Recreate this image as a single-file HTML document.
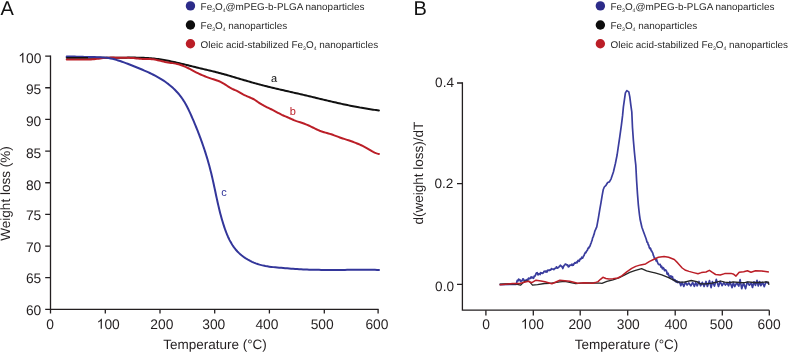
<!DOCTYPE html>
<html><head><meta charset="utf-8"><style>
html,body{margin:0;padding:0;background:#fff;}
body{width:789px;height:353px;overflow:hidden;}
svg{display:block;will-change:transform;text-rendering:geometricPrecision;font-family:"Liberation Sans",sans-serif;}
.tk{font-size:13.8px;fill:#231f20;}
.tkb{font-size:13.6px;fill:#231f20;}
.lab{font-size:13.5px;fill:#231f20;}
.big{font-size:20px;fill:#111;}
.lg{font-size:9.8px;fill:#2a2a2a;}
.sb{font-size:5px;}
.cl{font-size:11px;}
</style></head><body>
<svg width="789" height="353" viewBox="0 0 789 353">
<path d="M50.5,55.5 V309.3 H378.6" fill="none" stroke="#231f20" stroke-width="1.3"/>
<path d="M45.2,56.10 H50.5 M45.2,87.76 H50.5 M45.2,119.42 H50.5 M45.2,151.08 H50.5 M45.2,182.74 H50.5 M45.2,214.40 H50.5 M45.2,246.06 H50.5 M45.2,277.72 H50.5 M45.2,309.38 H50.5 M105.30,309.3 V313.6 M160.00,309.3 V313.6 M214.70,309.3 V313.6 M269.40,309.3 V313.6 M324.30,309.3 V313.6 M378.10,309.3 V313.6 M50.5,309.3 V313.6" fill="none" stroke="#231f20" stroke-width="1.3"/>
<path transform="translate(18.275,62.600) scale(0.006738,-0.006738)" d="M763,0 L583,0 L583,1147 Q518,1085 465,1054 Q412,1023 359,992 Q306,961 222,930 L222,1104 Q373,1175 429.5,1225.5 Q486,1276 542.5,1326.5 Q599,1377 646,1472 L763,1472 Z" fill="#231f20"/><text x="25.950" y="62.60" class="tk">0</text><text x="33.625" y="62.60" class="tk">0</text>
<text x="41.30" y="94.26" text-anchor="end" class="tk">95</text>
<text x="41.30" y="125.77" text-anchor="end" class="tk">90</text>
<text x="41.30" y="157.58" text-anchor="end" class="tk">85</text>
<text x="41.30" y="189.54" text-anchor="end" class="tk">80</text>
<text x="41.30" y="220.10" text-anchor="end" class="tk">75</text>
<text x="41.30" y="251.56" text-anchor="end" class="tk">70</text>
<text x="41.30" y="283.12" text-anchor="end" class="tk">65</text>
<text x="41.30" y="314.93" text-anchor="end" class="tk">60</text>
<text x="50.20" y="328.70" text-anchor="middle" class="tk">0</text>
<path transform="translate(96.738,328.700) scale(0.006738,-0.006738)" d="M763,0 L583,0 L583,1147 Q518,1085 465,1054 Q412,1023 359,992 Q306,961 222,930 L222,1104 Q373,1175 429.5,1225.5 Q486,1276 542.5,1326.5 Q599,1377 646,1472 L763,1472 Z" fill="#231f20"/><text x="104.413" y="328.70" class="tk">0</text><text x="112.087" y="328.70" class="tk">0</text>
<text x="161.85" y="328.70" text-anchor="middle" class="tk">200</text>
<text x="213.75" y="328.70" text-anchor="middle" class="tk">300</text>
<text x="266.90" y="328.70" text-anchor="middle" class="tk">400</text>
<text x="322.20" y="328.70" text-anchor="middle" class="tk">500</text>
<text x="376.95" y="328.70" text-anchor="middle" class="tk">600</text>
<text x="215" y="348.6" text-anchor="middle" class="lab">Temperature (°C)</text>
<text transform="translate(10,193.5) rotate(-90)" text-anchor="middle" class="lab">Weight loss (%)</text>
<text x="0.5" y="14.6" class="big">A</text>
<path d="M462.4,82.35 V310.2 H769.3" fill="none" stroke="#231f20" stroke-width="1.3"/>
<path d="M457.0,284.35 H462.4 M457.0,183.60 H462.4 M457.0,83.00 H462.4 M485.90,310.2 V315.5 M533.30,310.2 V315.5 M580.20,310.2 V315.5 M627.70,310.2 V315.5 M675.20,310.2 V315.5 M722.30,310.2 V315.5 M769.30,310.2 V315.5" fill="none" stroke="#231f20" stroke-width="1.3"/>
<text x="454.0" y="291.10" text-anchor="end" class="tkb">0.0</text>
<text x="453.3" y="187.90" text-anchor="end" class="tkb">0.2</text>
<text x="454.0" y="86.90" text-anchor="end" class="tkb">0.4</text>
<text x="486.00" y="328.70" text-anchor="middle" class="tk">0</text>
<path transform="translate(520.838,328.700) scale(0.006738,-0.006738)" d="M763,0 L583,0 L583,1147 Q518,1085 465,1054 Q412,1023 359,992 Q306,961 222,930 L222,1104 Q373,1175 429.5,1225.5 Q486,1276 542.5,1326.5 Q599,1377 646,1472 L763,1472 Z" fill="#231f20"/><text x="528.513" y="328.70" class="tk">0</text><text x="536.187" y="328.70" class="tk">0</text>
<text x="579.95" y="328.70" text-anchor="middle" class="tk">200</text>
<text x="628.25" y="328.70" text-anchor="middle" class="tk">300</text>
<text x="675.90" y="328.70" text-anchor="middle" class="tk">400</text>
<text x="721.35" y="328.70" text-anchor="middle" class="tk">500</text>
<text x="769.05" y="328.70" text-anchor="middle" class="tk">600</text>
<text x="626.5" y="348.6" text-anchor="middle" class="lab">Temperature (°C)</text>
<text transform="translate(422.8,173.2) rotate(-90)" text-anchor="middle" class="lab">d(weight loss)/dT</text>
<text x="413.6" y="14.6" class="big">B</text>
<path d="M66.70,57.70 L68.15,57.70 L69.61,57.69 L71.06,57.69 L72.52,57.69 L73.97,57.68 L75.43,57.69 L76.88,57.69 L78.33,57.69 L79.79,57.70 L81.24,57.70 L82.70,57.71 L84.15,57.72 L85.60,57.73 L87.06,57.74 L88.51,57.74 L89.96,57.75 L91.41,57.76 L92.87,57.77 L94.32,57.78 L95.77,57.78 L97.23,57.79 L98.68,57.80 L100.13,57.80 L101.59,57.81 L103.04,57.81 L104.50,57.81 L105.95,57.81 L107.40,57.81 L108.86,57.81 L110.31,57.80 L111.77,57.79 L113.22,57.78 L114.68,57.77 L116.14,57.76 L117.59,57.74 L119.05,57.72 L120.51,57.70 L121.96,57.68 L123.42,57.67 L124.88,57.65 L126.34,57.63 L127.79,57.62 L129.25,57.61 L130.71,57.60 L132.16,57.60 L133.62,57.61 L135.07,57.62 L136.53,57.63 L137.98,57.66 L139.43,57.69 L140.89,57.73 L142.34,57.78 L143.79,57.83 L145.24,57.90 L146.68,57.98 L148.13,58.07 L149.58,58.18 L151.02,58.29 L152.46,58.42 L153.90,58.57 L155.34,58.73 L156.78,58.90 L158.22,59.09 L159.65,59.30 L161.09,59.51 L162.52,59.74 L163.95,59.99 L165.38,60.24 L166.80,60.51 L168.23,60.78 L169.66,61.07 L171.08,61.36 L172.50,61.66 L173.93,61.97 L175.35,62.29 L176.77,62.61 L178.19,62.94 L179.60,63.27 L181.02,63.61 L182.44,63.95 L183.85,64.29 L185.27,64.63 L186.68,64.98 L188.10,65.33 L189.51,65.67 L190.92,66.02 L192.34,66.37 L193.75,66.72 L195.16,67.06 L196.57,67.41 L197.98,67.75 L199.39,68.10 L200.81,68.44 L202.22,68.79 L203.63,69.13 L205.04,69.46 L206.46,69.80 L207.87,70.14 L209.28,70.48 L210.69,70.81 L212.10,71.15 L213.52,71.50 L214.93,71.84 L216.33,72.19 L217.74,72.55 L219.15,72.91 L220.55,73.28 L221.95,73.66 L223.36,74.04 L224.75,74.42 L226.15,74.82 L227.55,75.21 L228.95,75.62 L230.34,76.02 L231.73,76.43 L233.13,76.84 L234.52,77.26 L235.91,77.67 L237.31,78.09 L238.70,78.51 L240.09,78.92 L241.48,79.34 L242.87,79.75 L244.27,80.17 L245.66,80.58 L247.06,80.99 L248.45,81.40 L249.85,81.80 L251.24,82.20 L252.64,82.59 L254.04,82.98 L255.44,83.37 L256.84,83.75 L258.25,84.13 L259.65,84.50 L261.05,84.87 L262.46,85.24 L263.87,85.60 L265.28,85.96 L266.69,86.31 L268.10,86.66 L269.51,87.01 L270.92,87.35 L272.33,87.69 L273.74,88.03 L275.16,88.36 L276.57,88.70 L277.99,89.03 L279.40,89.36 L280.82,89.68 L282.24,90.01 L283.65,90.34 L285.07,90.66 L286.49,90.98 L287.90,91.31 L289.32,91.63 L290.74,91.95 L292.16,92.27 L293.57,92.60 L294.99,92.92 L296.41,93.24 L297.83,93.57 L299.24,93.90 L300.66,94.22 L302.08,94.55 L303.49,94.88 L304.91,95.22 L306.33,95.55 L307.74,95.89 L309.16,96.22 L310.57,96.56 L311.99,96.90 L313.40,97.24 L314.81,97.58 L316.23,97.92 L317.64,98.26 L319.06,98.60 L320.47,98.93 L321.89,99.27 L323.30,99.61 L324.71,99.95 L326.13,100.29 L327.54,100.62 L328.96,100.96 L330.37,101.29 L331.79,101.62 L333.21,101.95 L334.62,102.28 L336.04,102.60 L337.46,102.92 L338.87,103.24 L340.29,103.56 L341.71,103.87 L343.13,104.18 L344.55,104.49 L345.97,104.80 L347.39,105.10 L348.81,105.39 L350.24,105.69 L351.66,105.97 L353.08,106.26 L354.51,106.54 L355.94,106.81 L357.36,107.08 L358.79,107.35 L360.22,107.61 L361.65,107.86 L363.08,108.11 L364.51,108.35 L365.95,108.59 L367.38,108.82 L368.82,109.05 L370.25,109.26 L371.69,109.47 L373.13,109.68 L374.57,109.88 L376.01,110.07 L377.46,110.25 L378.90,110.42" fill="none" stroke="#111111" stroke-width="2" stroke-linejoin="round" stroke-linecap="round"/>
<path d="M66.70,59.50 L68.22,59.52 L69.74,59.52 L71.26,59.52 L72.78,59.50 L74.30,59.49 L75.82,59.48 L77.34,59.47 L78.86,59.48 L80.38,59.49 L81.91,59.51 L83.43,59.53 L84.95,59.54 L86.47,59.54 L87.99,59.52 L89.51,59.48 L91.03,59.41 L92.55,59.31 L94.06,59.18 L95.57,59.03 L97.08,58.86 L98.59,58.68 L100.10,58.47 L101.61,58.26 L103.12,58.06 L104.63,57.89 L106.14,57.76 L107.66,57.67 L109.18,57.63 L110.70,57.61 L112.22,57.61 L113.74,57.62 L115.26,57.64 L116.78,57.66 L118.30,57.69 L119.82,57.72 L121.34,57.75 L122.86,57.77 L124.39,57.79 L125.91,57.81 L127.43,57.83 L128.95,57.87 L130.47,57.92 L131.99,58.00 L133.50,58.10 L135.01,58.25 L136.52,58.41 L138.03,58.58 L139.54,58.73 L141.06,58.83 L142.58,58.89 L144.11,58.92 L145.63,58.93 L147.16,58.95 L148.68,58.99 L150.20,59.06 L151.70,59.18 L153.20,59.36 L154.69,59.60 L156.18,59.88 L157.66,60.20 L159.14,60.55 L160.61,60.90 L162.10,61.25 L163.58,61.59 L165.08,61.90 L166.58,62.17 L168.09,62.42 L169.60,62.66 L171.11,62.89 L172.62,63.12 L174.12,63.37 L175.62,63.64 L177.10,63.95 L178.57,64.31 L180.01,64.72 L181.44,65.19 L182.85,65.72 L184.25,66.30 L185.63,66.92 L187.00,67.58 L188.36,68.26 L189.72,68.97 L191.07,69.68 L192.42,70.41 L193.77,71.13 L195.13,71.83 L196.49,72.53 L197.86,73.20 L199.23,73.85 L200.61,74.48 L202.00,75.09 L203.40,75.69 L204.81,76.26 L206.22,76.81 L207.64,77.35 L209.07,77.86 L210.51,78.36 L211.95,78.83 L213.40,79.29 L214.86,79.74 L216.31,80.20 L217.74,80.69 L219.16,81.23 L220.54,81.84 L221.88,82.52 L223.19,83.27 L224.48,84.07 L225.76,84.90 L227.03,85.73 L228.31,86.56 L229.60,87.37 L230.91,88.13 L232.25,88.83 L233.63,89.47 L235.02,90.08 L236.41,90.69 L237.78,91.35 L239.11,92.07 L240.43,92.83 L241.74,93.60 L243.06,94.35 L244.41,95.04 L245.79,95.69 L247.18,96.30 L248.58,96.89 L249.98,97.49 L251.37,98.10 L252.74,98.76 L254.08,99.46 L255.38,100.24 L256.64,101.08 L257.89,101.95 L259.13,102.82 L260.40,103.67 L261.68,104.47 L263.00,105.22 L264.33,105.94 L265.69,106.62 L267.05,107.28 L268.42,107.94 L269.80,108.58 L271.17,109.23 L272.53,109.90 L273.89,110.58 L275.22,111.29 L276.55,112.02 L277.88,112.76 L279.21,113.48 L280.55,114.18 L281.91,114.85 L283.29,115.48 L284.68,116.09 L286.08,116.68 L287.48,117.28 L288.87,117.89 L290.26,118.51 L291.65,119.14 L293.04,119.75 L294.44,120.35 L295.85,120.91 L297.27,121.42 L298.71,121.89 L300.16,122.33 L301.61,122.78 L303.05,123.26 L304.48,123.77 L305.89,124.32 L307.29,124.91 L308.68,125.52 L310.06,126.16 L311.44,126.83 L312.81,127.50 L314.18,128.18 L315.55,128.84 L316.93,129.50 L318.32,130.12 L319.72,130.71 L321.13,131.25 L322.56,131.75 L324.01,132.20 L325.46,132.63 L326.92,133.04 L328.38,133.45 L329.84,133.88 L331.29,134.33 L332.73,134.81 L334.16,135.32 L335.59,135.84 L337.01,136.37 L338.43,136.91 L339.85,137.44 L341.28,137.95 L342.72,138.45 L344.16,138.92 L345.60,139.38 L347.05,139.84 L348.49,140.31 L349.94,140.80 L351.37,141.29 L352.80,141.81 L354.23,142.34 L355.65,142.89 L357.06,143.45 L358.47,144.04 L359.86,144.65 L361.24,145.28 L362.62,145.93 L363.98,146.61 L365.33,147.31 L366.67,148.04 L367.99,148.80 L369.29,149.58 L370.59,150.38 L371.90,151.16 L373.22,151.90 L374.56,152.58 L375.95,153.16 L377.39,153.62 L378.89,153.94" fill="none" stroke="#bb1e27" stroke-width="2" stroke-linejoin="round" stroke-linecap="round"/>
<path d="M66.70,56.60 L68.70,56.58 L70.70,56.57 L72.69,56.59 L74.69,56.62 L76.68,56.66 L78.68,56.72 L80.67,56.77 L82.67,56.82 L84.66,56.88 L86.66,56.92 L88.66,56.96 L90.65,57.01 L92.65,57.05 L94.65,57.11 L96.65,57.17 L98.64,57.25 L100.64,57.35 L102.63,57.47 L104.62,57.62 L106.60,57.82 L108.57,58.08 L110.53,58.41 L112.47,58.82 L114.40,59.30 L116.32,59.85 L118.23,60.44 L120.13,61.06 L122.02,61.71 L123.91,62.39 L125.80,63.08 L127.67,63.80 L129.55,64.53 L131.42,65.27 L133.28,66.01 L135.14,66.76 L137.00,67.51 L138.85,68.26 L140.69,69.02 L142.53,69.79 L144.36,70.57 L146.18,71.37 L147.99,72.18 L149.79,73.01 L151.57,73.86 L153.34,74.74 L155.10,75.64 L156.84,76.58 L158.56,77.54 L160.27,78.55 L161.96,79.59 L163.62,80.67 L165.27,81.79 L166.89,82.96 L168.49,84.17 L170.06,85.44 L171.61,86.75 L173.12,88.11 L174.59,89.52 L176.02,90.96 L177.40,92.45 L178.73,93.97 L180.00,95.53 L181.20,97.13 L182.35,98.75 L183.44,100.41 L184.49,102.09 L185.48,103.80 L186.44,105.53 L187.35,107.27 L188.24,109.04 L189.10,110.82 L189.94,112.62 L190.75,114.42 L191.56,116.24 L192.35,118.06 L193.14,119.89 L193.92,121.72 L194.69,123.56 L195.45,125.40 L196.21,127.25 L196.95,129.10 L197.69,130.96 L198.41,132.82 L199.13,134.69 L199.83,136.56 L200.53,138.43 L201.22,140.31 L201.89,142.20 L202.56,144.09 L203.21,145.98 L203.86,147.88 L204.49,149.78 L205.11,151.68 L205.72,153.59 L206.31,155.50 L206.90,157.41 L207.47,159.33 L208.03,161.25 L208.58,163.17 L209.11,165.10 L209.64,167.03 L210.14,168.96 L210.64,170.89 L211.12,172.83 L211.59,174.77 L212.05,176.71 L212.49,178.65 L212.93,180.60 L213.36,182.54 L213.79,184.49 L214.21,186.43 L214.62,188.38 L215.04,190.33 L215.45,192.28 L215.86,194.22 L216.28,196.17 L216.70,198.12 L217.12,200.06 L217.55,202.00 L217.99,203.95 L218.44,205.89 L218.89,207.83 L219.36,209.77 L219.84,211.70 L220.34,213.63 L220.85,215.56 L221.37,217.49 L221.92,219.41 L222.48,221.33 L223.06,223.25 L223.67,225.16 L224.30,227.07 L224.95,228.97 L225.63,230.87 L226.35,232.75 L227.09,234.63 L227.88,236.48 L228.71,238.30 L229.59,240.10 L230.52,241.86 L231.51,243.59 L232.55,245.27 L233.66,246.91 L234.84,248.49 L236.09,250.02 L237.42,251.49 L238.82,252.89 L240.28,254.24 L241.81,255.52 L243.39,256.73 L245.03,257.89 L246.72,258.97 L248.45,259.99 L250.22,260.94 L252.03,261.82 L253.87,262.63 L255.74,263.36 L257.63,264.03 L259.54,264.62 L261.47,265.14 L263.41,265.60 L265.36,266.00 L267.33,266.34 L269.30,266.64 L271.28,266.90 L273.26,267.13 L275.25,267.33 L277.25,267.52 L279.24,267.69 L281.24,267.85 L283.23,268.02 L285.22,268.18 L287.21,268.35 L289.20,268.51 L291.19,268.67 L293.18,268.81 L295.17,268.95 L297.16,269.08 L299.15,269.19 L301.14,269.30 L303.13,269.40 L305.13,269.48 L307.12,269.56 L309.11,269.63 L311.11,269.69 L313.10,269.74 L315.10,269.79 L317.09,269.83 L319.09,269.86 L321.09,269.89 L323.08,269.91 L325.08,269.92 L327.08,269.94 L329.08,269.94 L331.07,269.94 L333.07,269.94 L335.07,269.94 L337.07,269.93 L339.07,269.92 L341.06,269.91 L343.06,269.90 L345.06,269.89 L347.06,269.87 L349.06,269.86 L351.06,269.84 L353.05,269.83 L355.05,269.82 L357.05,269.81 L359.05,269.80 L361.04,269.79 L363.04,269.79 L365.04,269.79 L367.03,269.79 L369.03,269.80 L371.02,269.81 L373.02,269.83 L375.01,269.85 L377.01,269.88 L379.00,269.91" fill="none" stroke="#33369a" stroke-width="2" stroke-linejoin="round" stroke-linecap="round"/>
<path d="M66.7,57.6 L88,57.65" fill="none" stroke="#111111" stroke-width="1.4"/>
<polyline points="499.6,284.7 516.2,284.3 516.5,283.8 516.9,281.5 517.3,280.3 517.8,280.5 518.2,280.8 518.7,279.1 519.1,279.4 519.6,280.1 520.0,279.8 520.5,281.4 521.0,281.3 521.4,281.1 521.9,280.3 522.4,280.5 522.8,278.9 523.3,278.9 523.8,279.9 524.2,280.3 524.7,280.7 525.2,280.6 525.8,280.1 526.3,280.5 526.8,279.6 527.2,280.3 527.7,279.2 528.1,279.4 528.6,278.1 529.0,278.8 529.5,278.7 530.0,278.1 530.6,278.3 531.1,276.8 531.6,277.8 532.2,277.1 532.7,277.7 533.2,278.3 533.7,278.0 534.2,276.0 534.8,276.3 535.3,275.7 535.8,274.1 536.3,273.1 536.8,272.9 537.3,272.7 537.7,274.7 538.2,274.8 538.7,273.8 539.1,273.8 539.6,273.8 540.1,274.5 540.5,272.7 541.0,273.3 541.5,272.9 542.0,272.9 542.5,273.3 543.0,272.9 543.5,272.8 544.0,271.4 544.5,271.6 545.0,271.3 545.5,271.1 546.0,272.1 546.5,271.2 547.0,272.0 547.5,270.3 548.0,270.2 548.5,270.2 549.0,270.6 549.5,269.9 550.0,270.2 550.5,270.2 551.0,269.3 551.4,268.6 551.9,269.3 552.4,269.0 552.9,269.0 553.4,269.0 553.9,269.6 554.4,268.8 554.9,268.3 555.4,268.3 555.9,268.2 556.4,266.8 556.9,267.5 557.4,268.1 557.9,267.6 558.4,267.6 558.9,267.2 559.4,266.2 559.9,266.0 560.4,265.2 560.9,265.8 561.4,266.7 561.8,266.3 562.3,267.0 562.8,268.6 563.3,267.0 563.8,266.0 564.3,265.4 564.8,264.8 565.3,264.1 565.8,264.2 566.3,264.7 566.8,264.8 567.3,265.5 567.8,265.0 568.3,266.9 568.8,266.4 569.3,266.4 569.8,265.2 570.3,265.2 570.8,265.1 571.3,264.9 571.8,264.2 572.3,265.4 572.8,264.4 573.3,265.2 573.8,263.9 574.2,263.8 574.7,262.8 575.2,262.6 575.7,263.2 576.2,262.5 576.7,262.0 577.2,262.7 577.7,261.0 578.2,260.3 578.7,260.9 579.2,261.3 579.7,260.1 580.2,258.9 580.7,259.2 581.2,258.7 581.7,257.2 582.1,257.7 582.6,258.1 583.0,257.3 583.5,256.0 584.0,255.7 584.5,254.0 585.0,253.4 585.4,252.3 585.9,252.7 586.4,251.4 586.9,250.7 587.3,250.4 587.8,248.8 588.3,247.8 588.7,248.3 589.2,246.9 589.7,246.8 590.2,245.4 590.6,244.2 591.1,243.1 591.6,241.4 592.1,240.4 592.6,237.9 593.2,236.9 593.7,235.1 594.2,233.9 594.7,231.6 595.2,230.2 595.7,229.4 596.2,228.0 596.7,227.1 598.4,217.9 599.8,209.4 601.0,202.6 602.1,195.8 603.2,189.8 604.3,187.0 606.0,185.3 607.7,182.5 609.4,181.9 611.1,178.8 613.4,172.0 615.4,163.5 617.1,155.0 618.1,148.2 619.8,136.7 621.4,125.2 622.6,115.4 623.4,106.8 624.4,99.8 625.4,92.9 626.8,90.6 628.8,91.9 629.8,96.9 630.8,104.8 631.8,112.0 632.5,127.8 633.4,140.5 634.4,152.0 635.2,160.0 635.8,165.2 636.6,180.5 637.5,194.1 638.3,204.3 638.9,210.0 639.5,215.0 640.2,219.8 641.9,227.2 643.6,232.0 646.1,238.7 646.6,240.5 647.1,242.4 647.7,242.3 648.2,244.9 648.7,244.9 649.2,247.4 649.7,248.5 650.2,248.0 650.7,248.8 651.2,250.7 651.7,251.0 652.2,252.0 652.8,253.1 653.3,255.3 653.8,256.1 654.3,258.0 654.8,258.6 655.3,258.4 655.7,259.7 656.2,260.9 656.7,259.7 657.2,261.7 657.7,262.7 658.2,264.0 658.7,264.2 659.1,264.7 659.6,264.6 660.1,264.3 660.6,265.8 661.1,267.1 661.6,266.2 662.1,267.9 662.5,268.8 663.0,267.6 663.5,268.0 664.0,268.7 664.5,270.6 665.0,270.7 665.5,269.8 666.0,270.4 666.6,271.2 667.1,274.0 667.6,274.4 668.1,273.2 668.6,274.9 669.1,276.2 669.6,277.0 670.1,276.5 670.5,276.0 671.0,277.0 671.5,276.2 672.0,277.6 672.5,276.7 673.0,279.7 673.5,279.2 673.9,279.3 674.4,280.8 674.9,279.8 675.4,280.4 675.9,281.8 676.3,282.1 676.8,280.8 677.2,281.4 677.7,282.5 678.2,281.9 678.8,281.8 679.4,282.8 679.9,282.6 680.8,285.7 682.1,282.4 683.8,286.4 685.4,282.2 687.1,285.0 688.8,283.0 690.8,285.8 692.7,282.5 694.4,286.3 695.7,282.6 697.2,285.8 699.0,281.5 700.6,285.8 702.3,282.3 704.1,286.5 706.0,281.5 707.4,286.5 709.5,280.6 711.1,287.6 712.4,281.7 714.5,286.1 716.3,279.4 718.5,286.5 720.1,281.4 722.1,285.7 723.8,282.7 725.4,285.0 727.1,283.0 728.6,285.8 729.9,281.7 732.1,287.6 733.3,282.6 734.7,286.5 736.7,282.8 738.8,286.1 740.1,279.7 741.7,288.7 743.5,282.9 745.6,288.6 747.2,282.1 749.4,285.2 751.1,282.8 752.5,287.5 754.0,281.8 755.5,285.3 757.0,280.4 758.2,285.9 759.6,281.5 760.9,285.7 762.6,282.4 764.3,286.6 765.9,281.9 768.9,283.4" fill="none" stroke="#3a3d9e" stroke-width="1.7" stroke-linejoin="round"/>
<polyline points="499.6,284.2 505.6,283.8 516.2,284.1 520.5,285.2 524.7,281.1 529.0,281.1 532.5,285.2 537.5,284.7 544.5,283.5 550.0,283.3 559.9,281.8 564.8,281.3 575.7,283.7 584.6,282.8 592.6,283.0 600.0,283.2 601.9,283.3 606.9,281.3 612.9,279.8 618.8,277.8 624.8,274.8 629.7,272.4 634.7,270.6 641.6,268.7 646.6,270.9 651.5,272.1 655.0,272.9 661.8,274.8 668.6,277.6 673.1,279.9 677.7,282.2 684.4,282.2 691.2,280.5 696.9,281.6 700.3,283.9 706.0,283.9 712.0,283.1 716.5,282.2 720.6,281.0 724.7,282.2 730.1,282.7 732.9,281.8 739.2,282.5 744.6,282.7 748.3,281.8 753.7,282.5 760.1,282.5 766.4,281.8 768.4,282.2 768.9,284.8" fill="none" stroke="#262626" stroke-width="1.3" stroke-linejoin="round"/>
<polyline points="499.6,284.8 505.6,284.2 512.7,283.5 519.8,283.5 523.3,282.6 528.3,281.3 531.8,282.7 536.0,280.2 541.0,280.9 545.0,281.8 551.9,283.7 559.9,280.3 569.8,281.3 577.7,283.2 584.6,282.8 592.6,283.2 595.0,282.6 598.0,281.6 600.5,279.3 602.9,277.3 605.9,278.5 608.9,279.0 612.9,278.8 617.8,278.0 621.8,275.8 626.7,271.9 631.7,268.4 635.7,266.4 640.6,264.9 645.6,263.9 649.6,261.4 653.5,259.5 658.4,257.3 664.1,256.4 668.6,257.3 674.3,259.5 677.7,262.9 682.2,268.0 685.6,270.3 689.0,271.4 693.5,272.6 698.0,273.7 701.4,272.6 706.0,272.0 709.4,270.3 712.0,272.2 715.6,274.5 720.2,275.0 724.7,273.6 731.0,273.4 733.8,274.3 736.0,276.1 739.2,272.2 743.7,271.8 747.4,270.7 751.0,272.2 755.5,270.7 761.9,271.1 768.9,272.0" fill="none" stroke="#bb1e27" stroke-width="1.5" stroke-linejoin="round"/>
<text x="274" y="82" text-anchor="middle" class="cl" fill="#111111">a</text>
<text x="292.8" y="114.6" text-anchor="middle" class="cl" fill="#bb1e27">b</text>
<text x="224" y="196.2" text-anchor="middle" class="cl" fill="#33369a">c</text>
<circle cx="190.45" cy="5.9" r="4.7" fill="#2c2b89"/>
<text transform="translate(200.6,9.90) scale(1.012,1)" class="lg">Fe<tspan class="sb" dy="2">3</tspan><tspan dy="-2">O</tspan><tspan class="sb" dy="2">4</tspan><tspan dy="-2">@mPEG-b-PLGA nanoparticles</tspan></text>
<circle cx="190.45" cy="25.05" r="4.7" fill="#0d0d0d"/>
<text transform="translate(200.6,29.05) scale(1.012,1)" class="lg">Fe<tspan class="sb" dy="2">3</tspan><tspan dy="-2">O</tspan><tspan class="sb" dy="2">4</tspan><tspan dy="-2"> nanoparticles</tspan></text>
<circle cx="190.45" cy="43.7" r="4.7" fill="#bb1e27"/>
<text transform="translate(200.6,47.70) scale(1.012,1)" class="lg">Oleic acid-stabilized Fe<tspan class="sb" dy="2">3</tspan><tspan dy="-2">O</tspan><tspan class="sb" dy="2">4</tspan><tspan dy="-2"> nanoparticles</tspan></text>
<circle cx="600.3499999999999" cy="5.9" r="4.7" fill="#2c2b89"/>
<text transform="translate(610.5,9.90) scale(1.012,1)" class="lg">Fe<tspan class="sb" dy="2">3</tspan><tspan dy="-2">O</tspan><tspan class="sb" dy="2">4</tspan><tspan dy="-2">@mPEG-b-PLGA nanoparticles</tspan></text>
<circle cx="600.3499999999999" cy="25.05" r="4.7" fill="#0d0d0d"/>
<text transform="translate(610.5,29.05) scale(1.012,1)" class="lg">Fe<tspan class="sb" dy="2">3</tspan><tspan dy="-2">O</tspan><tspan class="sb" dy="2">4</tspan><tspan dy="-2"> nanoparticles</tspan></text>
<circle cx="600.3499999999999" cy="43.7" r="4.7" fill="#bb1e27"/>
<text transform="translate(610.5,47.70) scale(1.012,1)" class="lg">Oleic acid-stabilized Fe<tspan class="sb" dy="2">3</tspan><tspan dy="-2">O</tspan><tspan class="sb" dy="2">4</tspan><tspan dy="-2"> nanoparticles</tspan></text>
</svg>
</body></html>
